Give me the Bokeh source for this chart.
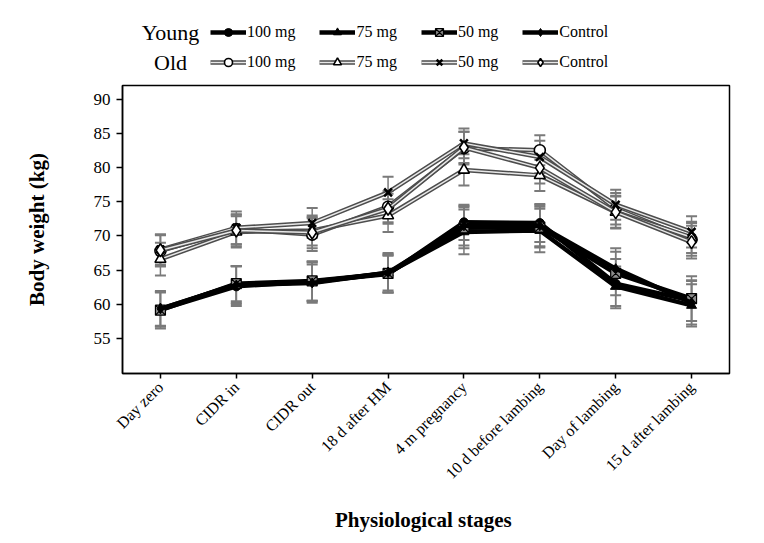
from bokeh.plotting import figure
from bokeh.layouts import column
from bokeh.models import (ColumnDataSource, Whisker, TeeHead, Legend, LegendItem,
                          Label, FixedTicker)
from bokeh.embed import file_html
from bokeh.resources import INLINE
import math

# ---------------- data ----------------
stages = ["Day zero", "CIDR in", "CIDR out", "18 d after HM", "4 m pregnancy",
          "10 d before lambing", "Day of lambing", "15 d after lambing"]

young_100 = [59.2, 62.6, 63.3, 64.4, 72.0, 71.9, 63.0, 60.5]
young_75 = [59.3, 62.9, 63.2, 64.6, 70.6, 70.8, 62.6, 59.8]
young_50 = [59.1, 63.0, 63.4, 64.5, 71.2, 71.3, 64.5, 60.8]
young_ctrl = [59.3, 62.8, 63.1, 64.6, 71.5, 71.5, 65.2, 60.2]

old_100 = [67.8, 71.0, 70.2, 74.3, 82.9, 82.6, 74.0, 69.5]
old_75 = [66.6, 70.6, 70.8, 73.0, 79.7, 78.9, 73.5, 69.8]
old_50 = [68.0, 71.2, 71.9, 76.4, 83.6, 81.6, 74.6, 70.6]
old_ctrl = [67.9, 70.8, 70.5, 74.0, 83.0, 80.0, 73.5, 69.1]

young_100_err = [2.5, 2.9, 2.8, 2.7, 2.6, 2.8, 3.6, 3.0]
young_75_err = [2.6, 2.7, 3.0, 2.9, 3.3, 3.2, 2.9, 3.1]
young_50_err = [2.7, 2.6, 2.9, 2.8, 3.0, 3.0, 3.2, 3.3]
young_ctrl_err = [2.5, 2.8, 2.7, 2.6, 2.9, 3.0, 3.0, 3.2]

old_100_err = [2.3, 2.2, 2.4, 2.3, 2.4, 2.2, 2.3, 2.4]
old_75_err = [2.4, 2.3, 2.2, 2.4, 2.3, 2.3, 2.4, 2.3]
old_50_err = [2.2, 2.4, 2.2, 2.3, 2.2, 2.4, 2.2, 2.3]
old_ctrl_err = [2.3, 2.3, 2.3, 2.2, 2.3, 2.3, 2.3, 2.4]

y_ticks = [55, 60, 65, 70, 75, 80, 85, 90]
dose_labels = ["100 mg", "75 mg", "50 mg", "Control"]
age_labels = ["Young", "Old"]

SERIF = "Liberation Serif"

# ---------------- main plot ----------------
p = figure(width=748, height=453, x_range=(-0.5, 7.5), y_range=(49.8, 92.1),
           output_backend="svg", toolbar_location=None,
           min_border_left=122, min_border_right=19,
           min_border_top=3, min_border_bottom=162)
p.grid.visible = False
p.outline_line_color = "black"
p.outline_line_width = 1.5

# legend strip (own figure, so nothing is clipped by the plot frame);
# its ranges lie outside the data so only the legend samples show
pl = figure(width=748, height=82, x_range=(100, 101), y_range=(100, 101),
            output_backend="svg", toolbar_location=None, min_border=0)
pl.axis.visible = False
pl.grid.visible = False
pl.outline_line_color = None

x = list(range(len(stages)))

STYLES = {
    "y100": dict(young=True, marker="circle", size=9, fill="black", lw=1),
    "y75": dict(young=True, marker="triangle", size=10, fill="black", lw=1),
    "y50": dict(young=True, marker="square_x", size=10, fill="#8c8c8c", lw=1.2),
    "yc": dict(young=True, marker="diamond", size=10, fill="black", lw=1),
    "o100": dict(young=False, marker="circle", size=11, fill="white", lw=1.6),
    "o75": dict(young=False, marker="triangle", size=11, fill="white", lw=1.6),
    "o50": dict(young=False, marker="x", size=11, fill="white", lw=2.5),
    "oc": dict(young=False, marker="diamond", size=13, fill="white", lw=1.6),
}

def draw(fig, src, st):
    rs = []
    if st["young"]:
        rs.append(fig.line("x", "y", source=src, line_color="black", line_width=4.5))
    else:
        rs.append(fig.line("x", "y", source=src, line_color="#4d4d4d", line_width=4.5))
        rs.append(fig.line("x", "y", source=src, line_color="#e8e8e8", line_width=1.5))
    rs.append(fig.scatter("x", "y", source=src, marker=st["marker"], size=st["size"],
                          fill_color=st["fill"], line_color="black",
                          line_width=st["lw"]))
    return rs

def add_series(vals, errs, key):
    src = ColumnDataSource(dict(x=x, y=vals,
                                upper=[v + e for v, e in zip(vals, errs)],
                                lower=[v - e for v, e in zip(vals, errs)]))
    w = Whisker(source=src, base="x", upper="upper", lower="lower",
                line_color="#7a7a7a", line_width=1.5, level="underlay",
                upper_head=TeeHead(size=11, line_color="#7a7a7a", line_width=2),
                lower_head=TeeHead(size=11, line_color="#7a7a7a", line_width=2))
    p.add_layout(w)
    draw(p, src, STYLES[key])
    return draw(pl, src, STYLES[key])

leg_o = [add_series(old_100, old_100_err, "o100"),
         add_series(old_75, old_75_err, "o75"),
         add_series(old_50, old_50_err, "o50"),
         add_series(old_ctrl, old_ctrl_err, "oc")]
leg_y = [add_series(young_100, young_100_err, "y100"),
         add_series(young_75, young_75_err, "y75"),
         add_series(young_50, young_50_err, "y50"),
         add_series(young_ctrl, young_ctrl_err, "yc")]

# axes
p.xaxis.ticker = FixedTicker(ticks=x)
p.xaxis.major_label_overrides = {i: s for i, s in enumerate(stages)}
p.xaxis.major_label_orientation = math.pi / 4
p.xaxis.major_label_text_font = SERIF
p.xaxis.major_label_text_font_size = "16px"
p.xaxis.major_label_text_color = "black"
p.xaxis.major_tick_out = 5
p.xaxis.major_tick_in = 0
p.xaxis.minor_tick_line_color = None
p.xaxis.major_label_standoff = 6
p.xaxis.axis_label = "Physiological  stages"
p.xaxis.axis_label_text_font = SERIF
p.xaxis.axis_label_text_font_size = "21px"
p.xaxis.axis_label_text_font_style = "bold"
p.xaxis.axis_label_text_color = "black"
p.xaxis.axis_label_standoff = 17

p.yaxis.ticker = FixedTicker(ticks=y_ticks)
p.yaxis.major_label_text_font = SERIF
p.yaxis.major_label_text_font_size = "17px"
p.yaxis.major_label_text_color = "black"
p.yaxis.major_tick_out = 6
p.yaxis.major_tick_in = 0
p.yaxis.minor_tick_line_color = None
p.yaxis.major_label_standoff = 6
p.yaxis.axis_label = "Body weight (kg)"
p.yaxis.axis_label_text_font = SERIF
p.yaxis.axis_label_text_font_size = "21px"
p.yaxis.axis_label_text_font_style = "bold"
p.yaxis.axis_label_text_color = "black"
p.yaxis.axis_label_standoff = 42

for ax in (p.xaxis, p.yaxis):
    ax.axis_line_color = "black"
    ax.axis_line_width = 1.5
    ax.major_tick_line_color = "black"
    ax.major_tick_line_width = 1.5

# legends
def make_legend(rlist, loc):
    items = [LegendItem(label=lab, renderers=rs) for lab, rs in zip(dose_labels, rlist)]
    lg = Legend(items=items, location=loc, orientation="horizontal",
                spacing=24, padding=0, margin=0, glyph_width=36, glyph_height=20,
                label_standoff=1, label_text_font=SERIF,
                label_text_font_size="16px", label_text_color="black",
                border_line_color=None, background_fill_alpha=0)
    pl.add_layout(lg, "center")

make_legend(leg_y, (88, 40))
make_legend(leg_o, (88, 10))

for txt, yy in zip(age_labels, (50, 20)):
    pl.add_layout(Label(x=48, y=yy, x_units="screen", y_units="screen", text=txt,
                        text_font=SERIF, text_font_size="22px", text_color="black",
                        text_align="center", text_baseline="middle"))

layout = column(pl, p, spacing=0)
open("out.html", "w").write(file_html(layout, INLINE))
